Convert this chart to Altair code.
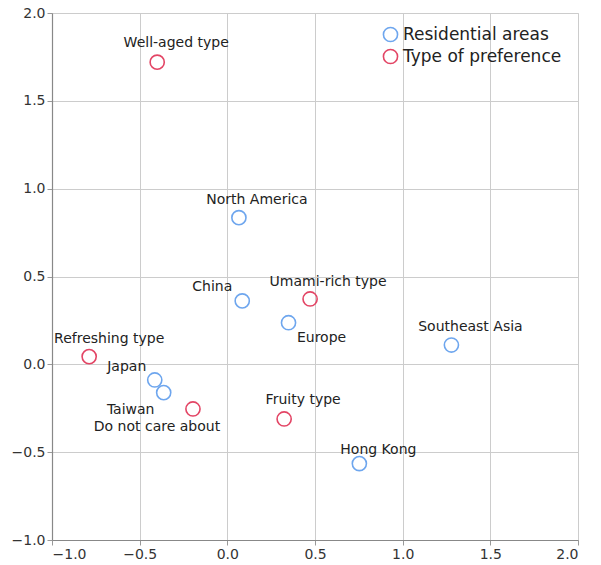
import altair as alt
import pandas as pd

# Point labels, grouping and coordinates on the two dimensions
names = ["Well-aged type", "North America", "China", "Umami-rich type", "Europe",
         "Southeast Asia", "Hong Kong", "Fruity type", "Refreshing type",
         "Japan", "Taiwan", "Do not care about"]
groups = ["Type of preference", "Residential areas", "Residential areas", "Type of preference",
          "Residential areas", "Residential areas", "Residential areas", "Type of preference",
          "Type of preference", "Residential areas", "Residential areas", "Type of preference"]
dim1 = [-0.40, 0.066, 0.085, 0.472, 0.349, 1.278, 0.753, 0.324, -0.788, -0.414, -0.363, -0.196]
dim2 = [1.72, 0.835, 0.361, 0.372, 0.237, 0.110, -0.565, -0.311, 0.044, -0.089, -0.161, -0.254]

group_order = ["Residential areas", "Type of preference"]
group_colors = ["#6ea6ee", "#e34565"]
axis_ticks = [-1.0, -0.5, 0.0, 0.5, 1.0, 1.5, 2.0]

# Text placement relative to each point (pixels)
label_offsets = {
    "Well-aged type": (19, -19), "North America": (18, -18), "China": (-30, -14),
    "Umami-rich type": (18, -17), "Europe": (33, 15), "Southeast Asia": (19, -18),
    "Hong Kong": (19, -14), "Fruity type": (19, -19), "Refreshing type": (20, -18),
    "Japan": (-28, -13), "Taiwan": (-33, 17), "Do not care about": (-36, 18),
}

df = pd.DataFrame({"name": names, "group": groups, "d1": dim1, "d2": dim2})

FONT = "DejaVu Sans"


def make_axis():
    return alt.Axis(values=axis_ticks, format=".1f", title=None, grid=True,
                    gridColor="#cccccc", gridWidth=1,
                    domainColor="#888888", domainWidth=1.2,
                    tickColor="#999999", tickSize=5,
                    labelFont=FONT, labelFontSize=14, labelColor="#333333", labelPadding=2)


x_enc = alt.X("d1:Q", scale=alt.Scale(domain=[-1.0, 2.0], nice=False), axis=make_axis())
y_enc = alt.Y("d2:Q", scale=alt.Scale(domain=[-1.0, 2.0], nice=False), axis=make_axis())

base = alt.Chart(df)

points = base.mark_point(shape="circle", filled=False, size=200, strokeWidth=1.6, opacity=1).encode(
    x=x_enc,
    y=y_enc,
    color=alt.Color("group:N",
                    scale=alt.Scale(domain=group_order, range=group_colors),
                    legend=alt.Legend(title=None, orient="none", legendX=330, legendY=13,
                                      symbolType="circle", symbolSize=200, symbolStrokeWidth=1.6,
                                      symbolFillColor="transparent",
                                      labelFont=FONT, labelFontSize=17, labelColor="#222",
                                      rowPadding=1, labelOffset=4)),
)

label_layers = []
for name, (dx, dy) in label_offsets.items():
    label_layers.append(
        base.transform_filter(alt.datum.name == name)
        .mark_text(font=FONT, fontSize=14, color="#222", dx=dx, dy=dy, align="center", baseline="middle")
        .encode(x="d1:Q", y="d2:Q", text="name:N")
    )

chart = alt.layer(points, *label_layers).properties(
    width=526,
    height=527,
    autosize=alt.AutoSizeParams(type="none"),
    padding={"left": 52, "top": 13, "right": 23, "bottom": 25},
).configure_view(
    stroke="#dddddd", strokeWidth=1
).configure(background="white")

chart.save("out.html", embed_options={"renderer": "svg", "actions": False})
